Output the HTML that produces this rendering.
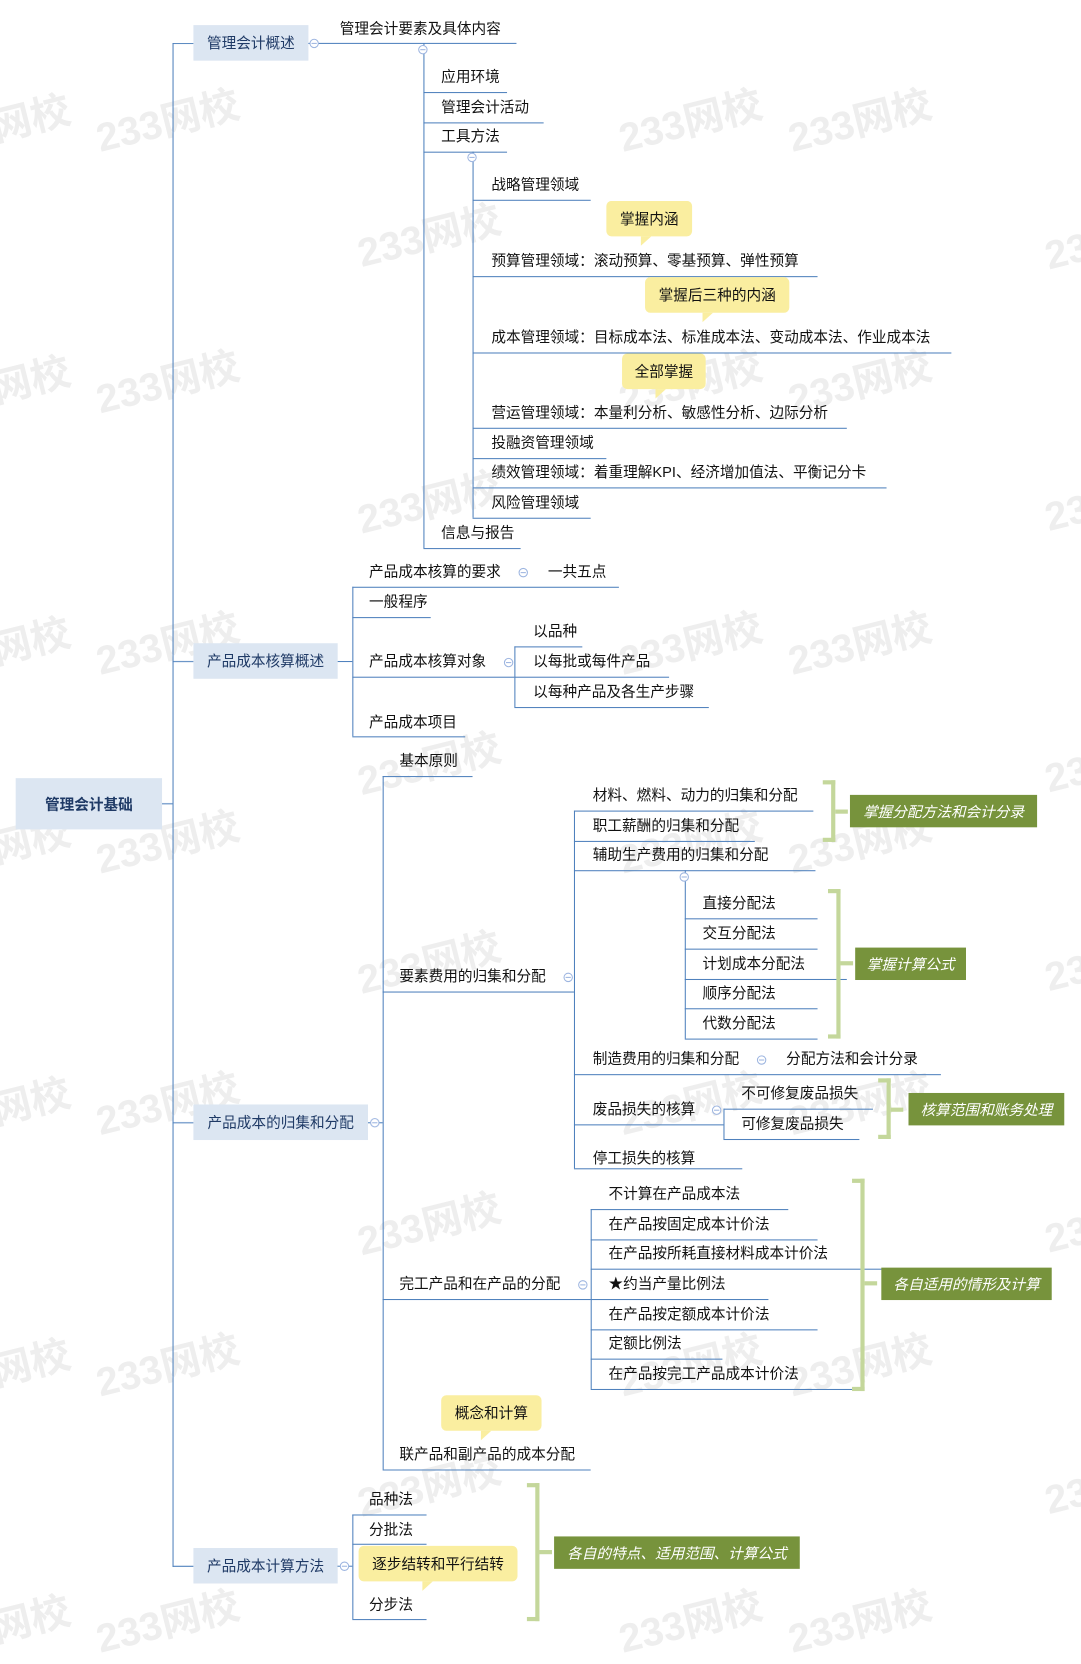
<!DOCTYPE html>
<html><head><meta charset="utf-8"><style>
html,body{margin:0;padding:0;background:#fff;width:1081px;height:1640px;overflow:hidden}
#w{position:absolute;left:0;top:0;width:1034px;height:1568px;transform:scale(1.04545,1.0459);transform-origin:0 0;font-family:"Liberation Sans","Noto Sans CJK SC",sans-serif;color:#111}
.t{position:absolute;font-size:14px;white-space:nowrap;line-height:16px;margin-top:-1px}
.h{position:absolute;height:1px;background:#4f81bd}
.v{position:absolute;width:1px;background:#4f81bd}
.c{position:absolute;width:7px;height:7px;border:1px solid #9db5e0;border-radius:50%;background:#fff}
.c:after{content:"";position:absolute;left:1px;top:3px;width:5px;height:1px;background:#9db5e0}
.box{position:absolute;background:#dce6f2;color:#1f3a66;font-size:14px;display:flex;align-items:center;justify-content:center;white-space:nowrap}
.y{position:absolute;background:#faeea0;border-radius:5px;font-size:14px;display:flex;align-items:center;justify-content:center;white-space:nowrap}
.y:after{content:"";position:absolute;left:40%;bottom:-9px;border-left:0 solid transparent;border-right:10px solid transparent;border-top:9px solid #faeea0}
.g{position:absolute;background:#77933c;color:#fff;font-style:italic;font-size:14px;display:flex;align-items:center;justify-content:center;white-space:nowrap}
.b{position:absolute;border:4px solid #c4d79b;border-left:none;width:8px}
.bt{position:absolute;height:4px;background:#c4d79b;width:12px}
.wm{position:absolute;color:#eeeeee;font-size:38px;font-weight:bold;transform:rotate(-14deg);white-space:nowrap;font-family:"Liberation Sans","Noto Sans CJK SC",sans-serif}
</style></head><body><div id="w">
<div class="wm" style="left:-30px;top:85px">3网校</div><div class="wm" style="left:90px;top:85px">233网校</div><div class="wm" style="left:590px;top:85px">233网校</div><div class="wm" style="left:752px;top:85px">233网校</div>
<div class="wm" style="left:340px;top:195px">233网校</div><div class="wm" style="left:1000px;top:220px">23</div>
<div class="wm" style="left:-30px;top:335px">3网校</div><div class="wm" style="left:90px;top:335px">233网校</div><div class="wm" style="left:590px;top:335px">233网校</div><div class="wm" style="left:752px;top:335px">233网校</div>
<div class="wm" style="left:340px;top:450px">233网校</div><div class="wm" style="left:1000px;top:470px">23</div>
<div class="wm" style="left:-30px;top:585px">3网校</div><div class="wm" style="left:90px;top:585px">233网校</div><div class="wm" style="left:590px;top:585px">233网校</div><div class="wm" style="left:752px;top:585px">233网校</div>
<div class="wm" style="left:340px;top:700px">233网校</div><div class="wm" style="left:1000px;top:720px">23</div>
<div class="wm" style="left:-30px;top:775px">3网校</div><div class="wm" style="left:90px;top:775px">233网校</div><div class="wm" style="left:590px;top:775px">233网校</div><div class="wm" style="left:752px;top:775px">233网校</div>
<div class="wm" style="left:340px;top:890px">233网校</div><div class="wm" style="left:1000px;top:910px">23</div>
<div class="wm" style="left:-30px;top:1025px">3网校</div><div class="wm" style="left:90px;top:1025px">233网校</div><div class="wm" style="left:590px;top:1025px">233网校</div><div class="wm" style="left:752px;top:1025px">233网校</div>
<div class="wm" style="left:340px;top:1140px">233网校</div><div class="wm" style="left:1000px;top:1160px">23</div>
<div class="wm" style="left:-30px;top:1275px">3网校</div><div class="wm" style="left:90px;top:1275px">233网校</div><div class="wm" style="left:590px;top:1275px">233网校</div><div class="wm" style="left:752px;top:1275px">233网校</div>
<div class="wm" style="left:340px;top:1390px">233网校</div><div class="wm" style="left:1000px;top:1410px">23</div>
<div class="wm" style="left:-30px;top:1520px">3网校</div><div class="wm" style="left:90px;top:1520px">233网校</div><div class="wm" style="left:590px;top:1520px">233网校</div><div class="wm" style="left:752px;top:1520px">233网校</div>

<!-- root -->
<div class="box" style="left:15px;top:744px;width:140px;height:49px;font-weight:bold">管理会计基础</div>
<div class="h" style="left:155px;top:768px;width:10px"></div>
<div class="v" style="left:165px;top:41px;height:1457px"></div>
<div class="h" style="left:165px;top:41px;width:20px"></div>
<div class="h" style="left:165px;top:632px;width:20px"></div>
<div class="h" style="left:165px;top:1073px;width:20px"></div>
<div class="h" style="left:165px;top:1497px;width:20px"></div>
<div class="box" style="left:185px;top:24px;width:110px;height:34px">管理会计概述</div>
<div class="box" style="left:185px;top:615px;width:138px;height:34px">产品成本核算概述</div>
<div class="box" style="left:185px;top:1056px;width:167px;height:34px">产品成本的归集和分配</div>
<div class="box" style="left:185px;top:1480px;width:138px;height:34px">产品成本计算方法</div>

<!-- branch 1 -->
<div class="h" style="left:295px;top:41px;width:199px"></div><div class="c" style="left:296px;top:37px"></div>
<div class="t" style="left:325px;top:20px">管理会计要素及具体内容</div>
<div class="v" style="left:405px;top:41px;height:483px"></div><div class="c" style="left:400px;top:43px"></div>
<div class="t" style="left:422px;top:66px">应用环境</div><div class="h" style="left:405px;top:88px;width:80px"></div>
<div class="t" style="left:422px;top:95px">管理会计活动</div><div class="h" style="left:405px;top:117px;width:115px"></div>
<div class="t" style="left:422px;top:123px">工具方法</div><div class="h" style="left:405px;top:145px;width:80px"></div>
<div class="t" style="left:422px;top:502px">信息与报告</div><div class="h" style="left:405px;top:524px;width:93px"></div>
<div class="v" style="left:452px;top:145px;height:350px"></div><div class="c" style="left:447px;top:146px"></div>
<div class="t" style="left:470px;top:169px">战略管理领域</div><div class="h" style="left:452px;top:191px;width:113px"></div>
<div class="t" style="left:470px;top:242px">预算管理领域：滚动预算、零基预算、弹性预算</div><div class="h" style="left:452px;top:264px;width:330px"></div>
<div class="t" style="left:470px;top:315px">成本管理领域：目标成本法、标准成本法、变动成本法、作业成本法</div><div class="h" style="left:452px;top:337px;width:458px"></div>
<div class="t" style="left:470px;top:387px">营运管理领域：本量利分析、敏感性分析、边际分析</div><div class="h" style="left:452px;top:409px;width:358px"></div>
<div class="t" style="left:470px;top:416px">投融资管理领域</div><div class="h" style="left:452px;top:438px;width:128px"></div>
<div class="t" style="left:470px;top:444px">绩效管理领域：着重理解KPI、经济增加值法、平衡记分卡</div><div class="h" style="left:452px;top:466px;width:396px"></div>
<div class="t" style="left:470px;top:473px">风险管理领域</div><div class="h" style="left:452px;top:495px;width:113px"></div>
<div class="y" style="left:580px;top:192px;width:82px;height:34px">掌握内涵</div>
<div class="y" style="left:617px;top:265px;width:138px;height:34px">掌握后三种的内涵</div>
<div class="y" style="left:595px;top:338px;width:80px;height:34px">全部掌握</div>

<!-- branch 2 -->
<div class="h" style="left:323px;top:632px;width:14px"></div>
<div class="v" style="left:337px;top:561px;height:143px"></div>
<div class="t" style="left:353px;top:539px">产品成本核算的要求</div><div class="h" style="left:337px;top:561px;width:255px"></div><div class="c" style="left:496px;top:543px"></div>
<div class="t" style="left:524px;top:539px">一共五点</div>
<div class="t" style="left:353px;top:568px">一般程序</div><div class="h" style="left:337px;top:590px;width:75px"></div>
<div class="t" style="left:353px;top:625px">产品成本核算对象</div><div class="h" style="left:337px;top:647px;width:155px"></div><div class="c" style="left:482px;top:629px"></div>
<div class="t" style="left:353px;top:683px">产品成本项目</div><div class="h" style="left:337px;top:704px;width:108px"></div>
<div class="v" style="left:492px;top:618px;height:58px"></div>
<div class="t" style="left:510px;top:596px">以品种</div><div class="h" style="left:492px;top:618px;width:65px"></div>
<div class="t" style="left:510px;top:625px">以每批或每件产品</div><div class="h" style="left:492px;top:647px;width:148px"></div>
<div class="t" style="left:510px;top:654px">以每种产品及各生产步骤</div><div class="h" style="left:492px;top:676px;width:186px"></div>

<!-- branch 3 -->
<div class="h" style="left:352px;top:1073px;width:14px"></div><div class="c" style="left:354px;top:1069px"></div>
<div class="v" style="left:366px;top:742px;height:663px"></div>
<div class="t" style="left:382px;top:720px">基本原则</div><div class="h" style="left:366px;top:742px;width:86px"></div>
<div class="t" style="left:382px;top:926px">要素费用的归集和分配</div><div class="h" style="left:366px;top:948px;width:183px"></div><div class="c" style="left:539px;top:930px"></div>
<div class="t" style="left:382px;top:1220px">完工产品和在产品的分配</div><div class="h" style="left:366px;top:1242px;width:199px"></div><div class="c" style="left:553px;top:1224px"></div>
<div class="y" style="left:422px;top:1334px;width:96px;height:34px">概念和计算</div>
<div class="t" style="left:382px;top:1383px">联产品和副产品的成本分配</div><div class="h" style="left:366px;top:1405px;width:199px"></div>

<div class="v" style="left:549px;top:775px;height:342px"></div>
<div class="t" style="left:567px;top:753px">材料、燃料、动力的归集和分配</div><div class="h" style="left:549px;top:775px;width:229px"></div>
<div class="t" style="left:567px;top:782px">职工薪酬的归集和分配</div><div class="h" style="left:549px;top:804px;width:173px"></div>
<div class="t" style="left:567px;top:810px">辅助生产费用的归集和分配</div><div class="h" style="left:549px;top:832px;width:231px"></div>
<div class="v" style="left:655px;top:832px;height:161px"></div><div class="c" style="left:650px;top:834px"></div>
<div class="t" style="left:672px;top:856px">直接分配法</div><div class="h" style="left:655px;top:878px;width:127px"></div>
<div class="t" style="left:672px;top:885px">交互分配法</div><div class="h" style="left:655px;top:907px;width:127px"></div>
<div class="t" style="left:672px;top:914px">计划成本分配法</div><div class="h" style="left:655px;top:936px;width:155px"></div>
<div class="t" style="left:672px;top:942px">顺序分配法</div><div class="h" style="left:655px;top:964px;width:127px"></div>
<div class="t" style="left:672px;top:971px">代数分配法</div><div class="h" style="left:655px;top:993px;width:127px"></div>
<div class="t" style="left:567px;top:1005px">制造费用的归集和分配</div><div class="h" style="left:549px;top:1027px;width:351px"></div><div class="c" style="left:724px;top:1009px"></div>
<div class="t" style="left:752px;top:1005px">分配方法和会计分录</div>
<div class="t" style="left:567px;top:1053px">废品损失的核算</div><div class="h" style="left:549px;top:1075px;width:143px"></div><div class="c" style="left:681px;top:1057px"></div>
<div class="v" style="left:692px;top:1060px;height:29px"></div>
<div class="t" style="left:709px;top:1038px">不可修复废品损失</div><div class="h" style="left:692px;top:1060px;width:143px"></div>
<div class="t" style="left:709px;top:1067px">可修复废品损失</div><div class="h" style="left:692px;top:1089px;width:130px"></div>
<div class="t" style="left:567px;top:1100px">停工损失的核算</div><div class="h" style="left:549px;top:1117px;width:161px"></div>

<div class="v" style="left:565px;top:1156px;height:172px"></div>
<div class="t" style="left:582px;top:1134px">不计算在产品成本法</div><div class="h" style="left:565px;top:1156px;width:189px"></div>
<div class="t" style="left:582px;top:1163px">在产品按固定成本计价法</div><div class="h" style="left:565px;top:1185px;width:217px"></div>
<div class="t" style="left:582px;top:1191px">在产品按所耗直接材料成本计价法</div><div class="h" style="left:565px;top:1213px;width:279px"></div>
<div class="t" style="left:582px;top:1220px">★约当产量比例法</div><div class="h" style="left:565px;top:1242px;width:170px"></div>
<div class="t" style="left:582px;top:1249px">在产品按定额成本计价法</div><div class="h" style="left:565px;top:1271px;width:217px"></div>
<div class="t" style="left:582px;top:1277px">定额比例法</div><div class="h" style="left:565px;top:1299px;width:126px"></div>
<div class="t" style="left:582px;top:1306px">在产品按完工产品成本计价法</div><div class="h" style="left:565px;top:1328px;width:250px"></div>

<!-- branch 4 -->
<div class="h" style="left:323px;top:1497px;width:14px"></div><div class="c" style="left:325px;top:1493px"></div>
<div class="v" style="left:337px;top:1448px;height:100px"></div>
<div class="t" style="left:353px;top:1426px">品种法</div><div class="h" style="left:337px;top:1448px;width:71px"></div>
<div class="t" style="left:353px;top:1455px">分批法</div><div class="h" style="left:337px;top:1476px;width:71px"></div>
<div class="y" style="left:343px;top:1478px;width:152px;height:34px">逐步结转和平行结转</div>
<div class="t" style="left:353px;top:1527px">分步法</div><div class="h" style="left:337px;top:1548px;width:71px"></div>

<!-- brackets -->
<div class="b" style="left:787px;top:746px;height:51px"></div><div class="bt" style="left:799px;top:774px"></div>
<div class="g" style="left:813px;top:760px;width:179px;height:31px">掌握分配方法和会计分录</div>
<div class="b" style="left:792px;top:850px;height:135px"></div><div class="bt" style="left:804px;top:919px"></div>
<div class="g" style="left:818px;top:906px;width:106px;height:31px">掌握计算公式</div>
<div class="b" style="left:840px;top:1031px;height:50px"></div><div class="bt" style="left:852px;top:1059px"></div>
<div class="g" style="left:869px;top:1045px;width:149px;height:31px">核算范围和账务处理</div>
<div class="b" style="left:815px;top:1127px;height:195px"></div><div class="bt" style="left:827px;top:1225px"></div>
<div class="g" style="left:843px;top:1212px;width:163px;height:31px">各自适用的情形及计算</div>
<div class="b" style="left:504px;top:1418px;height:124px"></div><div class="bt" style="left:516px;top:1482px"></div>
<div class="g" style="left:530px;top:1469px;width:235px;height:31px">各自的特点、适用范围、计算公式</div>
</div></body></html>
